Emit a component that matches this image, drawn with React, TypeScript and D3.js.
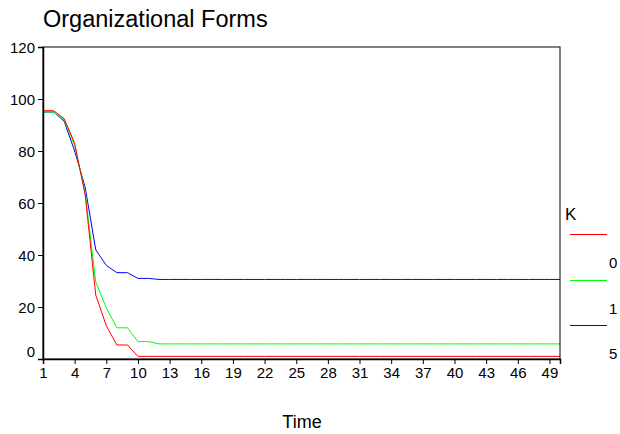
import React, { useEffect, useRef } from 'react';
import * as d3 from 'd3';

// Time steps 1..50
const time = d3.range(1, 51);

// Series values (first 12 steps, then flat)
const k0Head = [95.5, 95.5, 92.5, 83, 63, 24.6, 12.8, 5.4, 5.4, 1, 1, 1];
const k1Head = [95, 95, 92, 82, 64, 29.6, 19.6, 12, 12, 6.7, 6.7, 5.8];
const k5Head = [95, 95, 91.5, 80, 66, 42, 36, 33.2, 33.2, 31, 31, 30.6];

const extend = (head: number[]) => time.map((t, i) => (i < head.length ? head[i] : head[head.length - 1]));

const seriesNames = ['0', '1', '5'];
const seriesColors = ['#ff0000', '#00ff00', '#0000ff'];
const seriesValues = [extend(k0Head), extend(k1Head), extend(k5Head)];

const xTicks = d3.range(1, 50, 3);
const yTicks = [0, 20, 40, 60, 80, 100, 120];

const App: React.FC = () => {
  const svgRef = useRef<SVGSVGElement>(null);

  useEffect(() => {
    if (!svgRef.current) return;
    const svg = d3.select(svgRef.current);
    svg.selectAll('*').remove();

    const left = 43, right = 560, top = 47, bottom = 359;
    const font = 'Arial, "Liberation Sans", sans-serif';

    const x = d3.scaleLinear().domain([1, 50]).range([left, right]);
    const y = d3.scaleLinear().domain([0, 120]).range([bottom, top]);

    // Title
    svg.append('text')
      .attr('x', 43).attr('y', 27)
      .style('font-family', font).style('font-size', '23.5px')
      .text('Organizational Forms');

    // Lines (blue under, red on top)
    const line = d3.line<number>()
      .x((_, i) => x(time[i]))
      .y(d => y(d));

    [2, 1, 0].forEach(s => {
      svg.append('path')
        .datum(seriesValues[s])
        .attr('fill', 'none')
        .attr('stroke', seriesColors[s])
        .attr('stroke-width', 1)
        .attr('d', line);
    });

    // Frame
    svg.append('rect')
      .attr('x', left).attr('y', top)
      .attr('width', right - left).attr('height', bottom - top)
      .attr('fill', 'none').attr('stroke', '#000').attr('stroke-width', 1);

    // Y axis
    const yAxis = svg.append('g')
      .attr('transform', `translate(${left},0)`)
      .call(d3.axisLeft(y).tickValues(yTicks).tickSize(5).tickPadding(3));
    yAxis.select('.domain').attr('stroke-width', 1.5);
    yAxis.selectAll('text')
      .style('font-family', font).style('font-size', '15px').attr('fill', '#000')
      .attr('dy', (d: any) => (d === 0 ? '-0.2em' : '0.35em'));

    // X axis
    const xAxis = svg.append('g')
      .attr('transform', `translate(0,${bottom})`)
      .call(d3.axisBottom(x).tickValues(xTicks).tickSize(5).tickPadding(3));
    xAxis.select('.domain').attr('stroke-width', 1.5);
    xAxis.selectAll('text')
      .style('font-family', font).style('font-size', '15px').attr('fill', '#000');

    // X label
    svg.append('text')
      .attr('x', 302).attr('y', 428)
      .attr('text-anchor', 'middle')
      .style('font-family', font).style('font-size', '18px')
      .text('Time');

    // Legend
    svg.append('text')
      .attr('x', 565).attr('y', 220)
      .style('font-family', font).style('font-size', '17px')
      .text('K');
    seriesNames.forEach((name, i) => {
      const ly = Math.round(234 + i * 45.5) + 0.5;
      svg.append('line')
        .attr('x1', 570).attr('x2', 607)
        .attr('y1', ly).attr('y2', ly)
        .attr('stroke', seriesColors[i]).attr('stroke-width', 1);
      svg.append('text')
        .attr('x', 609).attr('y', ly + 33)
        .style('font-family', font).style('font-size', '15px')
        .text(name);
    });
  }, []);

  return (
    <svg ref={svgRef} width={620} height={434}
      style={{ position: 'absolute', left: 0, top: 0, background: '#fff' }} />
  );
};

export default App;
